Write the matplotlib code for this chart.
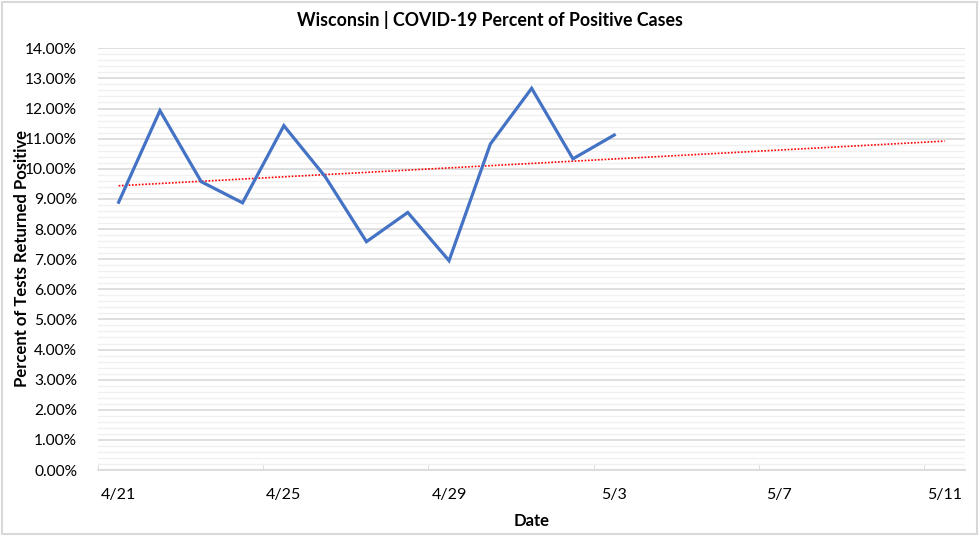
import numpy as np
import matplotlib.pyplot as plt
from matplotlib.patches import Rectangle
from matplotlib.ticker import FuncFormatter, MultipleLocator

# daily percent of tests returned positive, 4/21 .. 5/3
dates = ['4/21', '4/22', '4/23', '4/24', '4/25', '4/26', '4/27',
         '4/28', '4/29', '4/30', '5/1', '5/2', '5/3']
pct_positive = [8.89, 11.93, 9.57, 8.87, 11.43, 9.74, 7.58,
                8.55, 6.95, 10.82, 12.67, 10.33, 11.12]
tick_labels = ['4/21', '4/25', '4/29', '5/3', '5/7', '5/11']
n_days = 21  # axis runs 4/21 .. 5/11

plt.rcParams['font.family'] = ['Lato', 'DejaVu Sans']

fig = plt.figure(figsize=(9.8, 5.36), dpi=100)
ax = fig.add_axes([0.1, 0.123, 0.885, 0.787])

x = np.arange(len(pct_positive))
ax.plot(x, pct_positive, color='#4472C4', lw=2.3, solid_joinstyle='miter', zorder=3)

# linear trendline, forecast forward to 5/11
slope, icept = np.polyfit(x, pct_positive, 1)
xt = np.arange(n_days)
ax.plot(xt, slope * xt + icept, color='#FF0000', lw=1.2, ls=(0, (1, 1)), zorder=2)

ax.set_xlim(-0.5, n_days - 0.5)
ax.set_ylim(0, 14)
ax.yaxis.set_major_locator(MultipleLocator(1))
ax.yaxis.set_minor_locator(MultipleLocator(0.2))
ax.yaxis.set_major_formatter(FuncFormatter(lambda v, p: f'{v:.2f}%'))
ax.grid(which='major', axis='y', color='#d9d9d9', lw=1.2)
ax.grid(which='minor', axis='y', color='#f0f0f0', lw=1.0)
ax.set_axisbelow(True)

ax.set_xticks(np.arange(0, n_days, 4))
ax.set_xticklabels(tick_labels)
ax.set_xticks(np.arange(-0.5, n_days, 4), minor=True)
ax.tick_params(axis='x', which='major', length=0, pad=13, labelsize=11.5, colors='black')
ax.tick_params(axis='x', which='minor', length=5, color='#d9d9d9', direction='in')
ax.tick_params(axis='y', which='both', length=0, labelsize=11.2, pad=15)

for s in ['top', 'right', 'left']:
    ax.spines[s].set_visible(False)
ax.spines['bottom'].set_color('#d9d9d9')
ax.spines['bottom'].set_linewidth(1.2)

ax.set_xlabel('Date', fontsize=12, fontweight='bold', labelpad=8)
fig.text(22 / 980, 0.518, 'Percent of Tests Returned Positive', rotation=90,
         ha='center', va='center', fontsize=12, fontweight='bold')
fig.text(0.5, 0.962, 'Wisconsin | COVID-19 Percent of Positive Cases',
         ha='center', va='center', fontsize=12.8, fontweight='bold')

# chart area border
fig.patches.append(Rectangle((0.002, 0.003), 0.995, 0.993, transform=fig.transFigure,
                             fill=False, edgecolor='#d9d9d9', lw=1.5))

fig.savefig('out.png', dpi=100)
